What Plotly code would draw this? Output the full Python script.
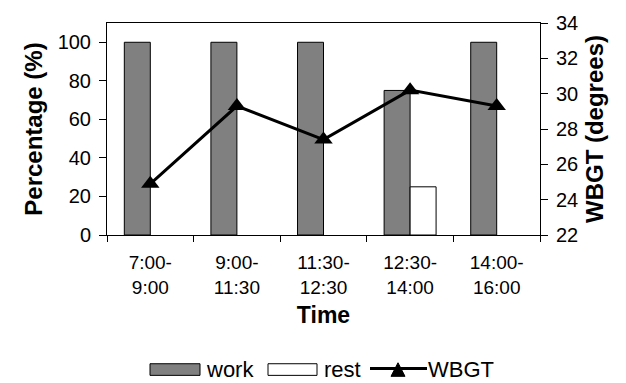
import plotly.graph_objects as go

# Work/rest share of each shift and the mean WBGT measured in it
periods = ["7:00-<br>9:00", "9:00-<br>11:30", "11:30-<br>12:30", "12:30-<br>14:00", "14:00-<br>16:00"]
work_pct = [100, 100, 100, 75, 100]
rest_pct = [0, 0, 0, 25, 0]
wbgt = [24.9, 29.3, 27.4, 30.2, 29.3]

FONT = "Liberation Sans, Arial, sans-serif"
W, H = 626, 383
L, R, T, B = 107, 86, 16, 148
PW, PH = W - L - R, H - T - B


def px(x):
    """Pixel column -> paper x."""
    return (x - L) / PW


def py(y):
    """Pixel row -> paper y."""
    return (H - B - y) / PH


fig = go.Figure()
fig.add_trace(go.Bar(
    x=periods, y=work_pct, name="work",
    marker=dict(color="#808080", line=dict(color="black", width=1)),
))
fig.add_trace(go.Bar(
    x=periods, y=rest_pct, name="rest",
    marker=dict(color="white", line=dict(color="black",
                                         width=[1 if v else 0 for v in rest_pct])),
))
fig.add_trace(go.Scatter(
    x=periods, y=wbgt, name="WBGT", yaxis="y2",
    mode="lines+markers",
    line=dict(color="black", width=3),
    marker=dict(symbol="triangle-up", size=16, color="black"),
))

# Legend drawn below the chart with wide swatches
ly = 374
shapes = [
    dict(type="rect", xref="paper", yref="paper",
         x0=px(150), x1=px(200), y0=py(380), y1=py(368),
         fillcolor="#808080", line=dict(color="black", width=1)),
    dict(type="rect", xref="paper", yref="paper",
         x0=px(268), x1=px(317), y0=py(380), y1=py(368),
         fillcolor="white", line=dict(color="black", width=1)),
    dict(type="line", xref="paper", yref="paper",
         x0=px(370), x1=px(427), y0=py(ly - 1), y1=py(ly - 1),
         line=dict(color="black", width=3)),
    dict(type="path", xref="paper", yref="paper",
         path=f"M {px(391)} {py(381)} L {px(405)} {py(381)} L {px(398)} {py(367)} Z",
         fillcolor="black", line=dict(color="black", width=1)),
]
annotations = [
    dict(text=t, x=px(x0), y=py(ly), xref="paper", yref="paper",
         xanchor="left", yanchor="middle", showarrow=False,
         font=dict(size=22, family=FONT, color="black"))
    for t, x0 in [("work", 204), ("rest", 322), ("WBGT", 426)]
]

fig.update_layout(
    width=W, height=H,
    margin=dict(l=L, r=R, t=T, b=B),
    paper_bgcolor="white", plot_bgcolor="white",
    font=dict(family=FONT, size=20, color="black"),
    barmode="group", bargap=0.4, bargroupgap=0,
    showlegend=False,
    shapes=shapes, annotations=annotations,
    xaxis=dict(
        showline=True, linecolor="black", linewidth=1, mirror=True,
        ticks="outside", ticklen=6, tickcolor="black", tickson="boundaries",
        tickfont=dict(size=19), ticklabelstandoff=10,
        title=dict(text="<b>Time</b>", font=dict(size=23), standoff=10),
    ),
    yaxis=dict(
        range=[0, 110], tickvals=[0, 20, 40, 60, 80, 100],
        showline=True, linecolor="black", linewidth=1,
        ticks="outside", ticklen=7, tickcolor="black",
        showgrid=False, zeroline=False,
        tickfont=dict(size=20), ticklabelstandoff=4,
        title=dict(text="<b>Percentage (%)</b>", font=dict(size=24), standoff=8),
    ),
    yaxis2=dict(
        overlaying="y", side="right",
        range=[22, 34], dtick=2,
        showline=True, linecolor="black", linewidth=1,
        ticks="outside", ticklen=7, tickcolor="black",
        showgrid=False, zeroline=False,
        tickfont=dict(size=20), ticklabelstandoff=4,
        title=dict(text="<b>WBGT (degrees)</b>", font=dict(size=24), standoff=8),
    ),
    # inner halves of the crossing tick marks
    yaxis3=dict(
        overlaying="y", side="left", range=[0, 110],
        tickvals=[0, 20, 40, 60, 80, 100], ticks="inside", ticklen=6,
        tickcolor="black", showticklabels=False, showgrid=False, zeroline=False,
    ),
    yaxis4=dict(
        overlaying="y", side="right", range=[22, 34], dtick=2,
        ticks="inside", ticklen=6,
        tickcolor="black", showticklabels=False, showgrid=False, zeroline=False,
    ),
)

fig.write_html("out.html")
